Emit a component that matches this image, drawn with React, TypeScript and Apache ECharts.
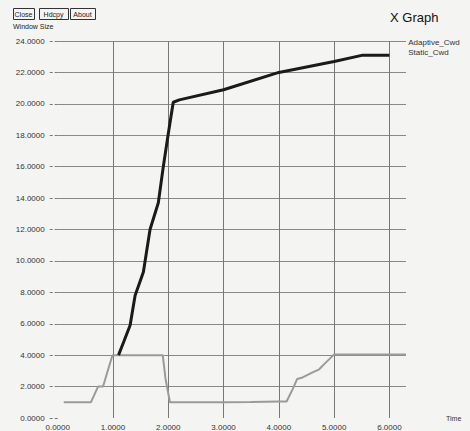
import React, { useEffect, useRef } from "react";
import * as echarts from "echarts";

const adaptiveTime = [1.1, 1.2, 1.31, 1.4, 1.55, 1.67, 1.82, 1.91, 2.0, 2.09, 2.2, 3.0, 4.0, 5.0, 5.52, 6.0];
const adaptiveCwd = [4.0, 4.9, 5.9, 7.8, 9.3, 12.0, 13.7, 16.0, 18.1, 20.1, 20.25, 20.9, 22.0, 22.7, 23.1, 23.1];

const staticTime = [0.11, 0.6, 0.73, 0.82, 0.99, 1.9, 1.95, 2.03, 2.5, 3.0, 3.5, 4.0, 4.14, 4.25, 4.33, 4.43, 4.61, 4.73, 4.82, 5.0, 5.5, 6.3];
const staticCwd = [1.0, 1.0, 2.0, 2.0, 4.0, 4.0, 2.5, 1.0, 1.0, 1.0, 1.02, 1.05, 1.05, 1.84, 2.48, 2.58, 2.9, 3.1, 3.43, 4.05, 4.05, 4.05];

const seriesNames = ["Adaptive_Cwd", "Static_Cwd"];
const buttons = ["Close", "Hdcpy", "About"];

const FONT = "'Liberation Sans', Arial, sans-serif";

export default function App() {
  const ref = useRef<HTMLDivElement>(null);
  useEffect(() => {
    if (!ref.current) return;
    const chart = echarts.init(ref.current, null, { renderer: "svg" });
    const btnX = [13, 39, 70];
    const btnW = [21, 29, 25];
    const graphic: any[] = [];
    buttons.forEach((b, i) => {
      graphic.push({
        type: "rect",
        left: btnX[i],
        top: 8,
        shape: { width: btnW[i], height: 11 },
        style: { fill: "#f4f4f4", stroke: "#333", lineWidth: 1 },
      });
      graphic.push({
        type: "text",
        x: btnX[i] + btnW[i] / 2,
        y: 14,
        style: { text: b, fontSize: 7, fontFamily: FONT, fill: "#222", align: "center", verticalAlign: "middle" },
      });
    });
    graphic.push({
      type: "text",
      x: 13,
      y: 26,
      style: { text: "Window Size", fontSize: 7, fontFamily: FONT, fill: "#222", align: "left", verticalAlign: "middle" },
    });
    graphic.push({
      type: "text",
      x: 390,
      y: 17,
      style: { text: "X Graph", fontSize: 13, fontFamily: FONT, fill: "#111", align: "left", verticalAlign: "middle" },
    });
    chart.setOption({
      animation: false,
      backgroundColor: "#f4f4f2",
      textStyle: { fontFamily: FONT },
      graphic,
      legend: {
        orient: "vertical",
        left: 394,
        top: 33,
        itemWidth: 0,
        itemHeight: 8,
        itemGap: 2,
        itemStyle: { opacity: 0 },
        lineStyle: { opacity: 0 },
        textStyle: { fontSize: 8, color: "#333", fontFamily: FONT },
        data: seriesNames,
      },
      grid: { left: 57.7, right: 64, top: 41, bottom: 12, containLabel: false },
      xAxis: {
        type: "value",
        min: 0,
        max: 6.3,
        interval: 1,
        name: "Time",
        nameLocation: "end",
        nameGap: 40,
        nameTextStyle: { fontSize: 7, color: "#333" },
        axisLine: { show: false },
        axisTick: { show: false },
        axisLabel: {
          fontSize: 8,
          color: "#333",
          margin: 5,
          formatter: (v: number) => (Math.abs(v - Math.round(v)) < 1e-6 ? v.toFixed(4) : ""),
        },
        splitLine: {
          show: true,
          showMinLine: false,
          showMaxLine: false,
          lineStyle: { color: "#777", width: 1 },
        },
      },
      yAxis: {
        type: "value",
        min: 0,
        max: 24,
        interval: 2,
        axisLine: { show: false },
        axisTick: { show: true, length: 10, lineStyle: { color: "#777", type: [3, 2] } },
        axisLabel: {
          fontSize: 8,
          color: "#333",
          margin: 13,
          formatter: (v: number) => v.toFixed(4),
        },
        splitLine: {
          show: true,
          showMinLine: false,
          lineStyle: { color: "#888", width: 1 },
        },
      },
      series: [
        {
          name: seriesNames[1],
          type: "line",
          showSymbol: false,
          data: staticTime.map((t, i) => [t, staticCwd[i]]),
          lineStyle: { color: "#9a9a9a", width: 2 },
          itemStyle: { color: "#9a9a9a" },
          z: 2,
        },
        {
          name: seriesNames[0],
          type: "line",
          showSymbol: false,
          data: adaptiveTime.map((t, i) => [t, adaptiveCwd[i]]),
          lineStyle: { color: "#1a1a1a", width: 3 },
          itemStyle: { color: "#1a1a1a" },
          z: 3,
        },
      ],
    });
    return () => chart.dispose();
  }, []);
  return (
    <div
      ref={ref}
      style={{ position: "fixed", left: 0, top: 0, width: 470, height: 431 }}
    />
  );
}
